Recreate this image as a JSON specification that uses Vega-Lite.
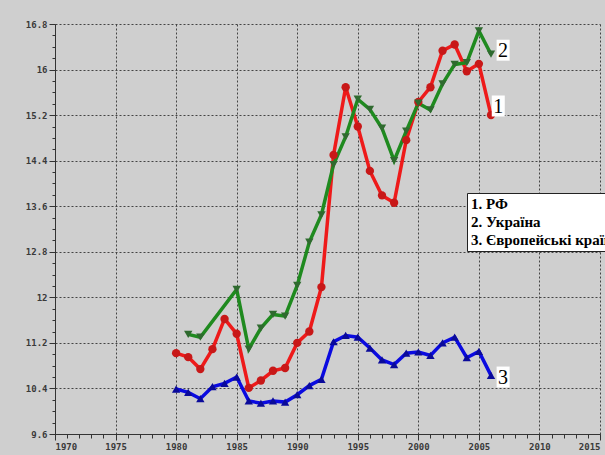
{
  "$schema": "https://vega.github.io/schema/vega-lite/v6.json",
  "autosize": {"type": "none"},
  "width": 545,
  "height": 410,
  "padding": {"left": 55, "top": 24, "right": 5, "bottom": 21},
  "background": "#cfcfcf",
  "config": {
    "view": {"stroke": null},
    "legend": {"labelFont": "Liberation Serif", "labelFontWeight": "bold"},
    "axis": {
      "labelFont": "DejaVu Sans Mono",
      "labelFontWeight": "bold",
      "labelFontSize": 9,
      "labelColor": "#3a3a3a",
      "tickColor": "#333",
      "domainColor": "#333",
      "gridColor": "#444",
      "gridDash": [2, 2],
      "gridOpacity": 1,
      "gridWidth": 1,
      "title": null
    }
  },
  "datasets": {
    "series": [
      {"series": "1", "year": 1980, "value": 11.02},
      {"series": "1", "year": 1981, "value": 10.95},
      {"series": "1", "year": 1982, "value": 10.74},
      {"series": "1", "year": 1983, "value": 11.09},
      {"series": "1", "year": 1984, "value": 11.62},
      {"series": "1", "year": 1985, "value": 11.36},
      {"series": "1", "year": 1986, "value": 10.41},
      {"series": "1", "year": 1987, "value": 10.54},
      {"series": "1", "year": 1988, "value": 10.71},
      {"series": "1", "year": 1989, "value": 10.76},
      {"series": "1", "year": 1990, "value": 11.2},
      {"series": "1", "year": 1991, "value": 11.4},
      {"series": "1", "year": 1992, "value": 12.18},
      {"series": "1", "year": 1993, "value": 14.5},
      {"series": "1", "year": 1994, "value": 15.69},
      {"series": "1", "year": 1995, "value": 15.0},
      {"series": "1", "year": 1996, "value": 14.22},
      {"series": "1", "year": 1997, "value": 13.79},
      {"series": "1", "year": 1998, "value": 13.66},
      {"series": "1", "year": 1999, "value": 14.76},
      {"series": "1", "year": 2000, "value": 15.43},
      {"series": "1", "year": 2001, "value": 15.69},
      {"series": "1", "year": 2002, "value": 16.33},
      {"series": "1", "year": 2003, "value": 16.44},
      {"series": "1", "year": 2004, "value": 15.97},
      {"series": "1", "year": 2005, "value": 16.1},
      {"series": "1", "year": 2006, "value": 15.2},
      {"series": "2", "year": 1981, "value": 11.35},
      {"series": "2", "year": 1982, "value": 11.3},
      {"series": "2", "year": 1985, "value": 12.14},
      {"series": "2", "year": 1986, "value": 11.09},
      {"series": "2", "year": 1987, "value": 11.46},
      {"series": "2", "year": 1988, "value": 11.7},
      {"series": "2", "year": 1989, "value": 11.67},
      {"series": "2", "year": 1990, "value": 12.21},
      {"series": "2", "year": 1991, "value": 12.97},
      {"series": "2", "year": 1992, "value": 13.45},
      {"series": "2", "year": 1993, "value": 14.33},
      {"series": "2", "year": 1994, "value": 14.82},
      {"series": "2", "year": 1995, "value": 15.48},
      {"series": "2", "year": 1996, "value": 15.3},
      {"series": "2", "year": 1997, "value": 14.97},
      {"series": "2", "year": 1998, "value": 14.4},
      {"series": "2", "year": 1999, "value": 14.92},
      {"series": "2", "year": 2000, "value": 15.41},
      {"series": "2", "year": 2001, "value": 15.29},
      {"series": "2", "year": 2002, "value": 15.75},
      {"series": "2", "year": 2003, "value": 16.09},
      {"series": "2", "year": 2004, "value": 16.12},
      {"series": "2", "year": 2005, "value": 16.68},
      {"series": "2", "year": 2006, "value": 16.27},
      {"series": "3", "year": 1980, "value": 10.39},
      {"series": "3", "year": 1981, "value": 10.33},
      {"series": "3", "year": 1982, "value": 10.22},
      {"series": "3", "year": 1983, "value": 10.43},
      {"series": "3", "year": 1984, "value": 10.49},
      {"series": "3", "year": 1985, "value": 10.6},
      {"series": "3", "year": 1986, "value": 10.18},
      {"series": "3", "year": 1987, "value": 10.14},
      {"series": "3", "year": 1988, "value": 10.18},
      {"series": "3", "year": 1989, "value": 10.16},
      {"series": "3", "year": 1990, "value": 10.29},
      {"series": "3", "year": 1991, "value": 10.45},
      {"series": "3", "year": 1992, "value": 10.56},
      {"series": "3", "year": 1993, "value": 11.22},
      {"series": "3", "year": 1994, "value": 11.33},
      {"series": "3", "year": 1995, "value": 11.3},
      {"series": "3", "year": 1996, "value": 11.11},
      {"series": "3", "year": 1997, "value": 10.9},
      {"series": "3", "year": 1998, "value": 10.82},
      {"series": "3", "year": 1999, "value": 11.02},
      {"series": "3", "year": 2000, "value": 11.04},
      {"series": "3", "year": 2001, "value": 10.98},
      {"series": "3", "year": 2002, "value": 11.2},
      {"series": "3", "year": 2003, "value": 11.3},
      {"series": "3", "year": 2004, "value": 10.94},
      {"series": "3", "year": 2005, "value": 11.05},
      {"series": "3", "year": 2006, "value": 10.63}
    ],
    "labels": [
      {"label": "1", "year": 2006.6, "value": 15.36},
      {"label": "2", "year": 2007.0, "value": 16.34},
      {"label": "3", "year": 2007.0, "value": 10.6}
    ]
  },
  "resolve": {"axis": {"x": "independent", "y": "independent"}},
  "layer": [
    {
      "data": {"name": "series"},
      "mark": {"type": "line", "strokeWidth": 3.5},
      "encoding": {
        "x": {
          "field": "year", "type": "quantitative",
          "scale": {"domain": [1970, 2015], "nice": false, "zero": false},
          "axis": {
            "orient": "bottom",
            "values": [1970, 1975, 1980, 1985, 1990, 1995, 2000, 2005, 2010, 2015],
            "format": "d", "tickSize": 6, "labelPadding": 2, "grid": true, "domain": true
          }
        },
        "y": {
          "field": "value", "type": "quantitative",
          "scale": {"domain": [9.6, 16.8], "nice": false, "zero": false},
          "axis": {
            "orient": "left",
            "values": [9.6, 10.4, 11.2, 12, 12.8, 13.6, 14.4, 15.2, 16, 16.8],
            "labelExpr": "toString(datum.value)",
            "tickSize": 6, "labelPadding": 2, "grid": true, "domain": true
          }
        },
        "stroke": {
          "field": "series", "type": "nominal",
          "scale": {"domain": ["1", "2", "3"], "range": ["#ee1a1a", "#1f8a1f", "#0a0ae0"]},
          "legend": {
            "orient": "none", "legendX": 412, "legendY": 169,
            "title": null,
            "fillColor": "white", "strokeColor": "#222",
            "padding": 3,
            "symbolSize": 0, "symbolStrokeWidth": 0, "symbolOpacity": 0,
            "labelFont": "Liberation Serif", "labelFontWeight": "bold", "labelFontSize": 15,
            "labelColor": "black", "labelOffset": -14, "rowPadding": 2,
            "labelLimit": 300,
            "labelExpr": "datum.label == '1' ? '1. РФ' : datum.label == '2' ? '2. Україна' : '3. Європейські країни'"
          }
        },
        "detail": {"field": "series"}
      }
    },
    {
      "data": {"name": "series"},
      "mark": {"type": "point", "filled": true, "size": 70, "strokeWidth": 1, "opacity": 1},
      "encoding": {
        "x": {
          "field": "year", "type": "quantitative",
          "axis": {
            "orient": "bottom",
            "values": [1971, 1972, 1973, 1974, 1976, 1977, 1978, 1979, 1981, 1982, 1983, 1984, 1986, 1987, 1988, 1989, 1991, 1992, 1993, 1994, 1996, 1997, 1998, 1999, 2001, 2002, 2003, 2004, 2006, 2007, 2008, 2009, 2011, 2012, 2013, 2014],
            "labels": false, "tickSize": 4, "grid": false, "domain": false
          }
        },
        "y": {
          "field": "value", "type": "quantitative",
          "axis": {
            "orient": "left",
            "values": [9.8, 10.0, 10.2, 10.6, 10.8, 11.0, 11.4, 11.6, 11.8, 12.2, 12.4, 12.6, 13.0, 13.2, 13.4, 13.8, 14.0, 14.2, 14.6, 14.8, 15.0, 15.4, 15.6, 15.8, 16.2, 16.4, 16.6],
            "labels": false, "tickSize": 3, "grid": false, "domain": false
          }
        },
        "shape": {
          "field": "series", "type": "nominal",
          "scale": {"domain": ["1", "2", "3"], "range": ["circle", "triangle-down", "triangle-up"]},
          "legend": null
        },
        "fill": {
          "field": "series", "type": "nominal",
          "scale": {"domain": ["1", "2", "3"], "range": ["#c81818", "#2f6a2f", "#0a0a9a"]},
          "legend": null
        }
      }
    },
    {
      "data": {"name": "labels"},
      "mark": {"type": "rect", "width": 13, "height": 21, "fill": "white"},
      "encoding": {
        "x": {"field": "year", "type": "quantitative", "axis": null},
        "y": {"field": "value", "type": "quantitative", "axis": null}
      }
    },
    {
      "data": {"name": "labels"},
      "mark": {"type": "text", "font": "Liberation Serif", "fontSize": 20, "color": "black", "baseline": "middle", "align": "center", "dy": 1},
      "encoding": {
        "x": {"field": "year", "type": "quantitative", "axis": null},
        "y": {"field": "value", "type": "quantitative", "axis": null},
        "text": {"field": "label"}
      }
    }
  ]
}
